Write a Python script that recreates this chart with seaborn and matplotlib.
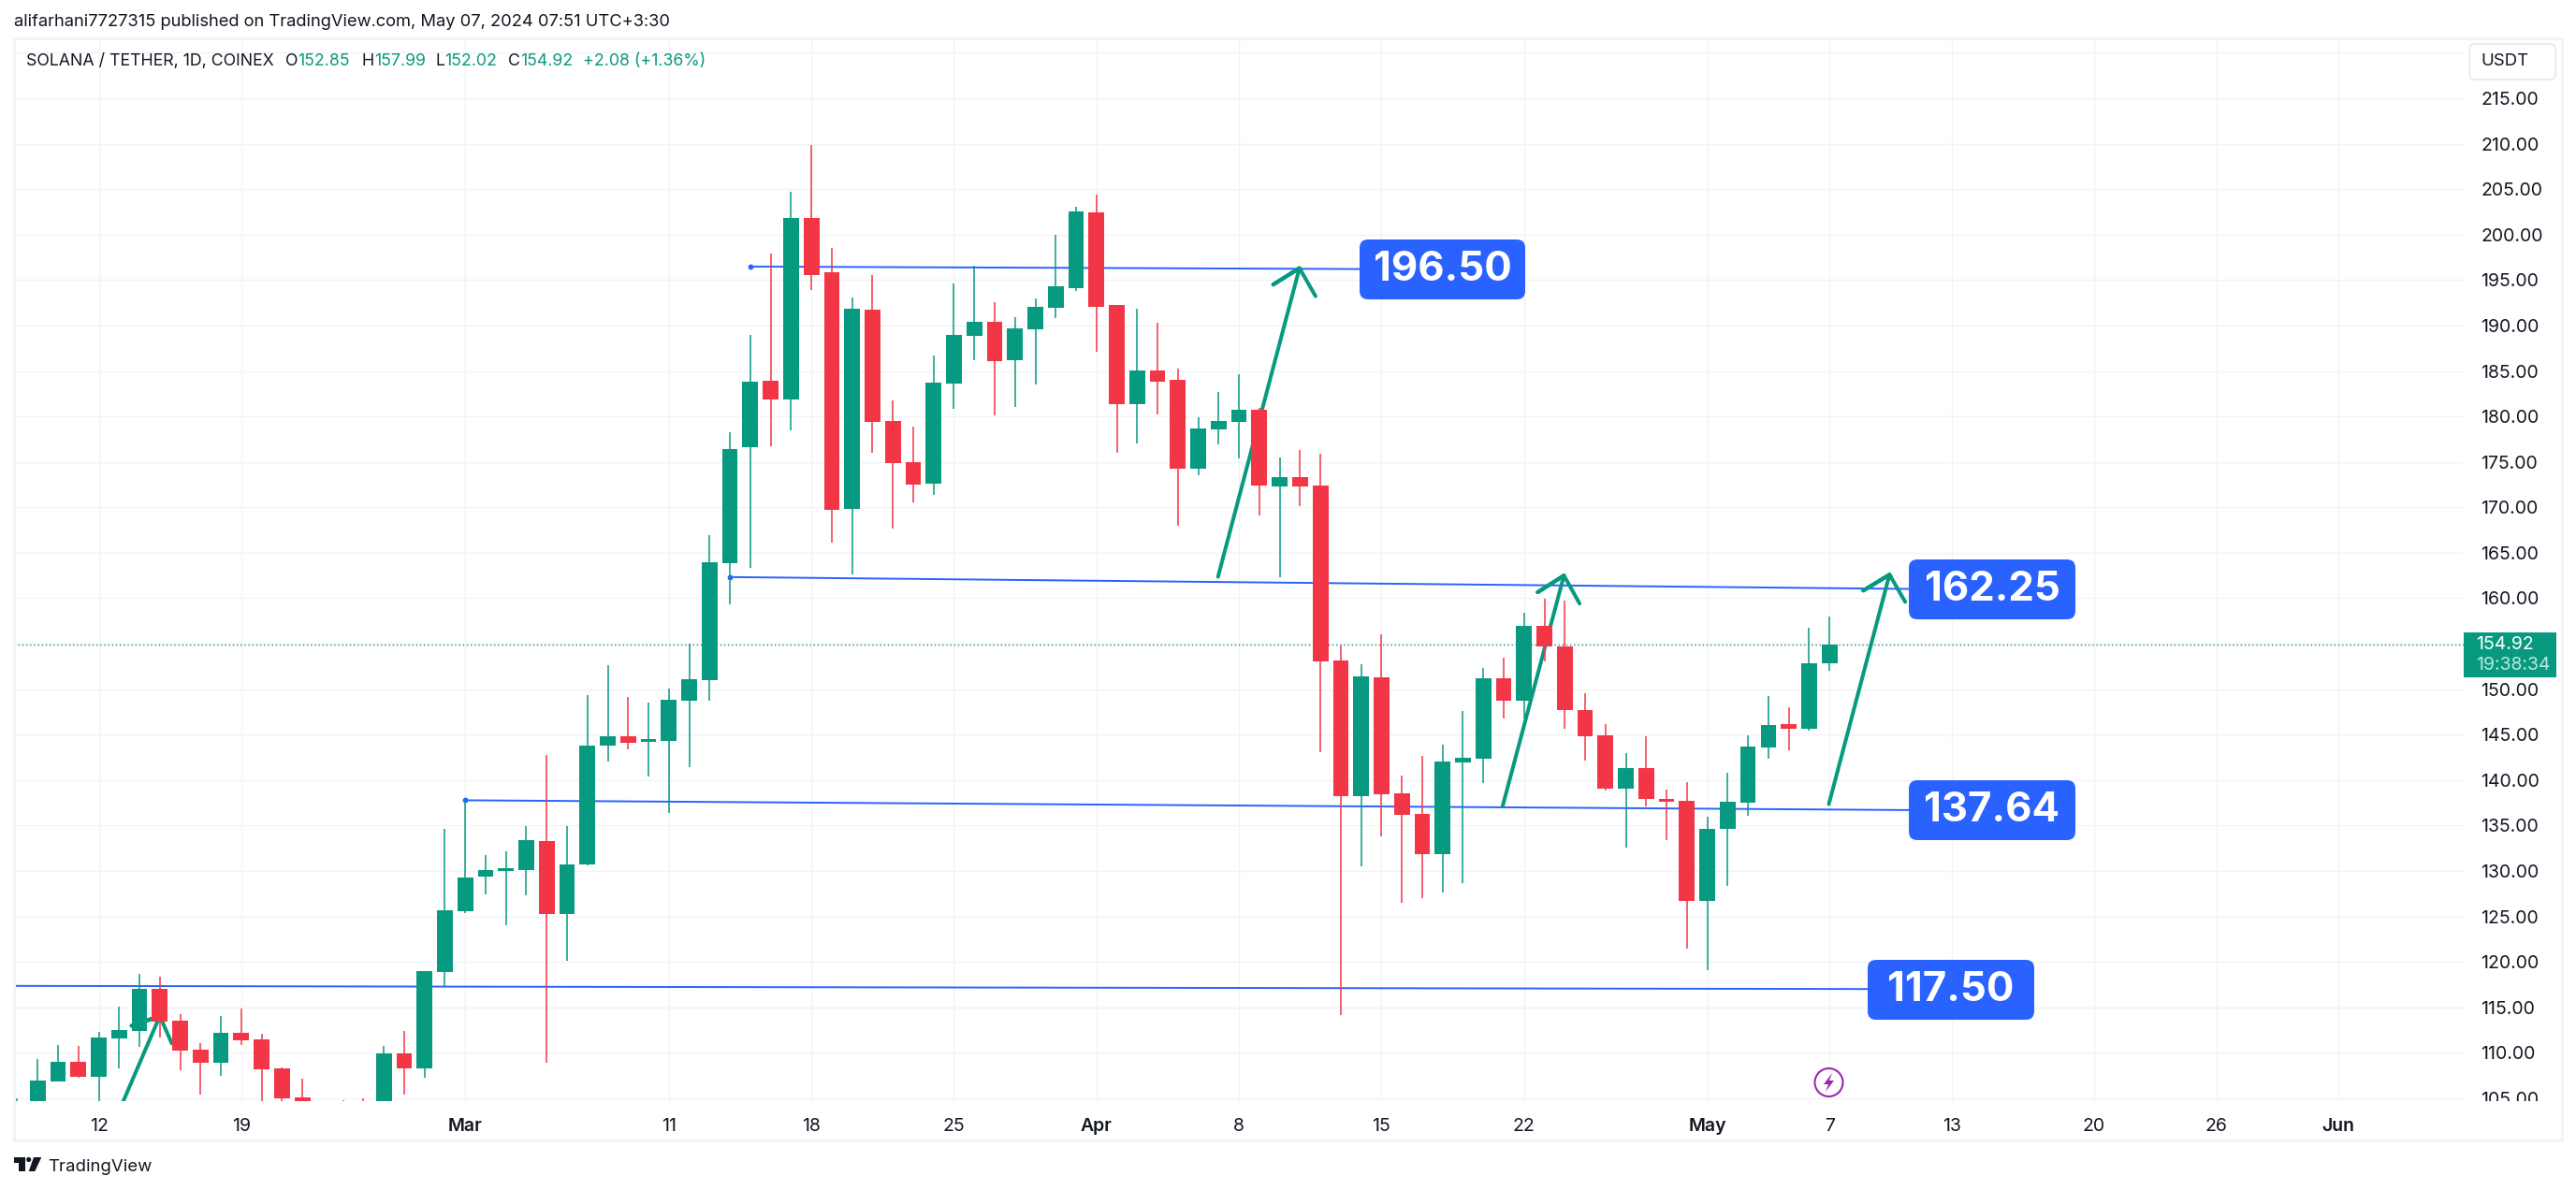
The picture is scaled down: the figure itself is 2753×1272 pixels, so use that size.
import numpy as np
import pandas as pd
import matplotlib
matplotlib.use("Agg")
import matplotlib.pyplot as plt
import seaborn as sns
from matplotlib.patches import FancyBboxPatch, Rectangle, Polygon, Circle
from matplotlib.transforms import IdentityTransform, Bbox

# ---- data -----------------------------------------------------------------
days = list(range(-4, 86))  # days counted from 12 Feb 2024
opens = [99.0,103.0,106.88,109.04,107.38,111.61,112.44,117.04,113.56,110.36,108.91,112.23,111.48,108.33,105.14,103.0,101.0,103.0,103.5,109.95,
         108.33,118.91,125.58,129.4,130.02,130.15,133.3,125.29,130.72,143.79,144.82,144.2,144.33,148.76,151.0,163.87,176.63,183.93,181.91,201.83,
         195.87,169.87,191.75,179.51,174.98,172.62,183.62,188.87,190.41,186.19,189.59,191.96,194.12,202.45,192.27,181.36,185.06,184.03,174.26,178.58,
         179.41,180.74,172.31,173.34,172.41,153.16,138.25,151.33,138.58,136.3,131.89,141.96,142.36,151.22,148.75,156.98,154.71,147.73,144.93,139.09,
         141.33,137.95,137.73,126.75,134.64,137.55,143.61,146.18,145.67,152.85]
highs = [105.0,109.29,110.9,110.78,112.27,115.09,118.7,118.41,114.26,111.11,114.05,114.88,112.1,108.41,107.17,104.0,104.8,105.0,110.78,112.44,
         119.03,134.66,137.77,131.76,132.18,134.95,142.79,134.95,149.34,152.66,149.14,148.56,150.09,155.03,166.97,178.27,188.97,197.92,204.71,209.86,
         198.54,193.09,195.56,181.77,178.89,186.71,194.63,196.59,192.57,190.93,192.99,199.98,203.07,204.41,192.27,191.85,190.31,185.27,179.92,182.7,
         184.65,180.95,175.5,176.32,175.91,154.82,152.76,156.07,140.52,142.69,143.9,147.61,152.35,153.49,158.42,159.96,159.74,149.56,146.18,143.0,
         144.82,138.98,139.79,135.97,140.82,144.93,149.23,148.02,156.76,157.99]
lows = [97.0,101.0,106.88,107.3,104.0,108.33,110.7,111.65,108.12,105.43,107.5,110.9,104.7,104.0,102.0,100.0,100.0,100.5,103.0,105.43,
        107.3,117.33,125.4,127.4,124.05,127.37,108.95,120.15,130.6,142.05,143.41,140.43,136.41,141.42,148.76,159.34,163.39,176.76,178.48,193.91,
        166.13,162.64,176.01,167.68,170.56,171.38,180.85,186.19,180.13,181.05,183.52,190.82,193.81,187.12,176.01,177.04,180.23,167.99,173.54,176.94,
        175.39,169.12,162.33,170.15,143.1,114.18,130.53,133.84,126.52,127.04,127.66,128.69,139.68,146.79,146.79,153.05,145.67,142.18,138.87,132.59,
        137.11,133.43,121.49,119.07,128.36,136.08,142.36,143.28,145.45,152.02]
closes = [101.0,106.96,109.04,107.38,111.69,112.52,117.04,113.47,110.28,108.91,112.23,111.4,108.21,105.02,103.5,101.0,103.0,102.0,109.95,108.33,
          119.03,125.71,129.32,130.15,130.23,133.42,125.29,130.72,143.79,144.82,144.12,144.41,148.85,151.13,164.0,176.42,183.83,181.91,201.83,195.59,
          169.73,191.85,179.41,174.88,172.51,183.73,188.97,190.41,186.09,189.69,192.06,194.32,202.55,192.06,181.36,185.06,183.83,174.26,178.68,179.51,
          180.74,172.41,173.34,172.31,153.05,138.25,151.44,138.47,136.19,131.89,142.07,142.47,151.22,148.75,156.98,154.71,147.73,144.82,139.09,141.33,
          137.95,137.62,126.75,134.64,137.62,143.72,146.07,145.67,152.87,154.92]

price_ticks = list(range(105, 225, 5))
time_ticks = [0, 7, 18, 28, 35, 42, 49, 56, 63, 70, 79, 85, 91, 98, 104, 110]
time_labels = ["12", "19", "Mar", "11", "18", "25", "Apr", "8", "15", "22", "May", "7", "13", "20", "26", "Jun"]
bold_labels = ["Mar", "Apr", "May", "Jun"]
last_price = 154.92

level_days = [[32, 62.73], [31, 89.0], [18, 89.0], [-5, 86.87]]
level_prices = [[196.48, 196.2], [162.33, 161.02], [137.78, 136.7], [117.37, 117.02]]
level_dots = [True, True, True, False]

arrow_days = [[0.5, 3.0, 1.61, 3.0, 3.59],
              [54.97, 58.97, 57.68, 58.97, 59.76],
              [68.95, 71.96, 70.67, 71.96, 72.73],
              [84.97, 87.95, 86.66, 87.95, 88.72]]
arrow_prices = [[101.0, 114.05, 112.98, 114.05, 111.03],
                [162.36, 196.31, 194.5, 196.31, 193.23],
                [137.14, 162.5, 160.66, 162.5, 159.41],
                [137.36, 162.6, 160.84, 162.6, 159.6]]
level_labels = ["196.50", "162.25", "137.64", "117.50"]

GREEN, RED, BLUE = "#089981", "#F23645", "#2962FF"
INK, GRID, FRAME = "#131722", "#F2F3F6", "#F0F3FA"
W, H = 2753, 1272

sns.set_theme(style="white", rc={"axes.edgecolor": "white", "axes.linewidth": 0})
plt.rcParams["font.family"] = ["Inter", "Roboto", "DejaVu Sans"]

fig = plt.figure(figsize=(W / 100, H / 100), dpi=100, facecolor="white")
ax = fig.add_axes([15 / W, 1 - 1177 / H, (2633 - 15) / W, (1177 - 41) / H])
ax.set_facecolor("white")

def px(x, y):
    return x / W, 1 - y / H

df = pd.DataFrame({"day": days, "open": opens, "high": highs, "low": lows, "close": closes})
df["up"] = df["close"] >= df["open"]

# trend levels
for d, p, dot in zip(level_days, level_prices, level_dots):
    sns.lineplot(x=d, y=p, color=BLUE, linewidth=1.4, estimator=None, sort=False, ax=ax, zorder=3)
    if dot:
        ax.plot(d[0], p[0], "o", color=BLUE, ms=4.2, mew=0, zorder=3)

# hand-drawn arrows
for d, p in zip(arrow_days, arrow_prices):
    sns.lineplot(x=d, y=p, color=GREEN, linewidth=2.9, estimator=None, sort=False, ax=ax, zorder=4,
                 solid_capstyle="round", solid_joinstyle="round")

# wicks and bodies
for flag, colour in ((True, GREEN), (False, RED)):
    sub = df[df["up"] == flag]
    long = pd.concat([sub[["day", "low"]].rename(columns={"low": "price"}),
                      sub[["day", "high"]].rename(columns={"high": "price"})])
    sns.lineplot(data=long, x="day", y="price", units="day", estimator=None, color=colour,
                 linewidth=1.1, ax=ax, zorder=5, solid_capstyle="butt")
    bottom = sub[["open", "close"]].min(axis=1).to_numpy()
    top = sub[["open", "close"]].max(axis=1).to_numpy()
    sns.barplot(x=sub["day"].to_numpy(), y=np.maximum(top - bottom, 0.3), bottom=bottom, native_scale=True,
                width=0.77, color=colour, saturation=1, errorbar=None, linewidth=0, ax=ax, zorder=6)

ax.axhline(last_price, color=GREEN, lw=1.0, ls=(0, (1, 2)), zorder=2)

ax.set_xlim(-4.16, 116.15)
ax.set_ylim(104.69, 221.58)
ax.set_xlabel("")
ax.set_ylabel("")
ax.set_xticks(time_ticks)
ax.set_xticklabels(time_labels)
ax.set_yticks(price_ticks)
ax.set_yticklabels(["" if v == 220 else f"{v:.2f}" for v in price_ticks])
ax.yaxis.tick_right()
ax.tick_params(axis="x", length=0, pad=13, labelsize=14, labelcolor=INK)
ax.tick_params(axis="y", length=0, pad=13, labelsize=14, labelcolor=INK)
ax.grid(True, color=GRID, linewidth=1.0)
ax.set_axisbelow(True)
for s in ax.spines.values():
    s.set_visible(False)
for t in ax.get_xticklabels():
    if t.get_text() in bold_labels:
        t.set_fontweight("semibold")
clip_box = Bbox.from_extents(0, H - 1177, W, H)
for t in ax.get_yticklabels():
    t.set_clip_box(clip_box)
    t.set_clip_on(True)

# outer frame
fig.patches.append(Rectangle((15, H - 1219), 2738 - 15, 1219 - 41, fill=False, edgecolor=FRAME, linewidth=2.2,
                             transform=IdentityTransform(), figure=fig, zorder=10))

# level labels
boxes = [(1453, 256, 177, 64), (2040, 598, 178, 64), (2040, 834, 178, 64), (1996, 1026, 178, 64)]
for (x, y, w, h), text in zip(boxes, level_labels):
    ax.add_patch(FancyBboxPatch((x, H - y - h), w, h, boxstyle="round,pad=0,rounding_size=9", facecolor=BLUE,
                                edgecolor="none", transform=IdentityTransform(), clip_on=False, zorder=8))
    fig.text(*px(x + w / 2, y + h / 2 + 1), text, color="white", fontsize=31.5, fontweight="bold",
             ha="center", va="center", zorder=9)

# header texts
fig.text(*px(15, 24), "alifarhani7727315 published on TradingView.com, May 07, 2024 07:51 UTC+3:30",
         fontsize=13.2, color=INK, va="center")
fig.text(*px(27.5, 65.5), "SOLANA / TETHER, 1D, COINEX", fontsize=12.8, color=INK, va="center")
for x, s, c in [(305, "O", INK), (318.5, "152.85", GREEN), (386, "H", INK), (400, "157.99", GREEN),
                (465.5, "L", INK), (475, "152.02", GREEN), (543, "C", INK), (556, "154.92", GREEN),
                (623, "+2.08 (+1.36%)", GREEN)]:
    fig.text(*px(x, 65.5), s, fontsize=12.8, color=c, va="center")

# currency button
ax.add_patch(FancyBboxPatch((2639, H - 85), 92, 38, boxstyle="round,pad=0,rounding_size=6", facecolor="white",
                            edgecolor="#E0E3EB", linewidth=1.0, transform=IdentityTransform(), clip_on=False, zorder=8))
fig.text(*px(2677, 66), "USDT", fontsize=13.4, color=INK, ha="center", va="center", zorder=9)

# last-price tag
ax.add_patch(Rectangle((2633, H - 724), 99, 48, facecolor=GREEN, edgecolor="none",
                       transform=IdentityTransform(), clip_on=False, zorder=8))
fig.text(*px(2646, 689), "154.92", fontsize=14, color="white", va="center", zorder=9)
fig.text(*px(2646, 711), "19:38:34", fontsize=14, color="#BFE5DC", va="center", zorder=9)

# flash badge
ax.add_patch(Circle((1954.5, H - 1157), 15, facecolor="white", edgecolor="#9C27B0", linewidth=1.5,
                    transform=IdentityTransform(), clip_on=False, zorder=8))
bolt = [(1958, 1147), (1949, 1159), (1954, 1159), (1951, 1167), (1960, 1155), (1955, 1155)]
ax.add_patch(Polygon([(x, H - y) for x, y in bolt], closed=True, facecolor="#9C27B0", edgecolor="none",
                     transform=IdentityTransform(), clip_on=False, zorder=9))

# TradingView footer
logo = [[(15, 1237), (27.3, 1237), (27.3, 1252), (20, 1252), (20, 1242.5), (15, 1242.5)],
        [(36, 1237), (44.3, 1237), (37.3, 1252), (30.7, 1252)]]
for shape in logo:
    ax.add_patch(Polygon([(x, H - y) for x, y in shape], closed=True, facecolor=INK, edgecolor="none",
                         transform=IdentityTransform(), clip_on=False, zorder=9))
ax.add_patch(Circle((30.7, H - 1239.5), 2.6, facecolor=INK, edgecolor="none", transform=IdentityTransform(),
                    clip_on=False, zorder=9))
fig.text(*px(51, 1247.5), "TradingView", fontsize=13.4, color=INK, va="center")

fig.savefig("out.png", dpi=100, facecolor="white")
